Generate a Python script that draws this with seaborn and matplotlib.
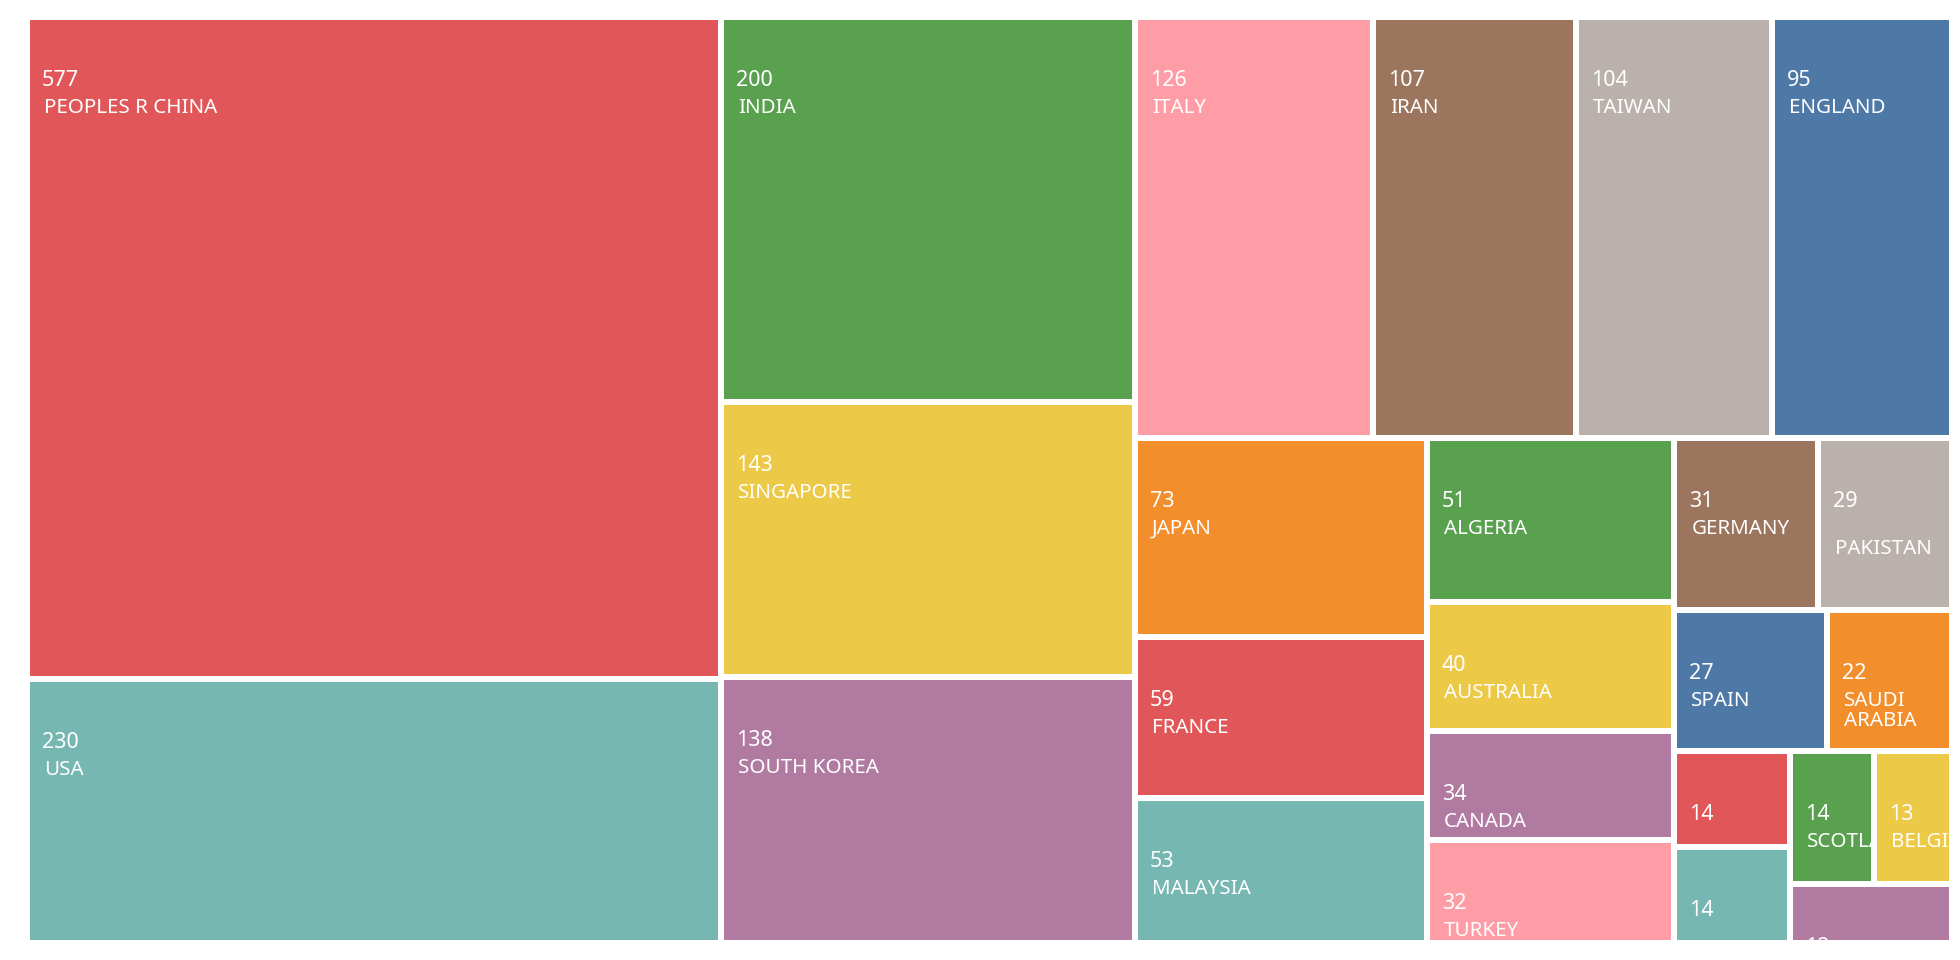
import numpy as np
import matplotlib
matplotlib.use("Agg")
import matplotlib.pyplot as plt
import seaborn as sns
from matplotlib.patches import Rectangle

# records per country (bottom-right tiles are cut off in the source, their names are not visible)
countries = ["PEOPLES R CHINA", "USA", "INDIA", "SINGAPORE", "SOUTH KOREA",
             "ITALY", "IRAN", "TAIWAN", "ENGLAND", "JAPAN", "FRANCE", "MALAYSIA",
             "ALGERIA", "AUSTRALIA", "CANADA", "TURKEY", "GERMANY", "\nPAKISTAN",
             "SPAIN", "SAUDI\nARABIA", "", "", "SCOTLAND", "BELGIUM", ""]
records = [577, 230, 200, 143, 138, 126, 107, 104, 95, 73, 59, 53,
           51, 40, 34, 32, 31, 29, 27, 22, 14, 14, 14, 13, 12]
tableau = ["#e15759", "#76b7b2", "#59a14f", "#edc948", "#b07aa1",
           "#ff9da7", "#9c755f", "#bab0ac", "#4e79a7", "#f28e2b"]


def squarify(values, x, y, w, h, ratio=0.5 * (1 + 5 ** 0.5)):
    # squarified layout, same rule as echarts treemap (golden square ratio)
    total = sum(values)
    areas = [v * w * h / total for v in values]
    rect = {"x": x, "y": y, "w": w, "h": h}
    out = []

    def worst(row, area, L):
        f = L * L * ratio
        sq = area * area
        return max(f * max(row) / sq, sq / (f * min(row)))

    def place(row, area, L, flush):
        horiz = L == rect["w"]
        other = area / L if L else 0
        limit = rect["h"] if horiz else rect["w"]
        if flush or other > limit:
            other = limit
        start = rect["x"] if horiz else rect["y"]
        end = start + (rect["w"] if horiz else rect["h"])
        pos = start
        for k, a in enumerate(row):
            step = a / other
            if k == len(row) - 1 or end - pos < step:
                step = end - pos
            if horiz:
                out.append((pos, rect["y"], step, other))
            else:
                out.append((rect["x"], pos, other, step))
            pos += step
        if horiz:
            rect["y"] += other
            rect["h"] -= other
        else:
            rect["x"] += other
            rect["w"] -= other

    row, row_area, best = [], 0.0, np.inf
    fixed = min(w, h)
    i = 0
    while i < len(areas):
        a = areas[i]
        row.append(a)
        row_area += a
        score = worst(row, row_area, fixed)
        if score <= best:
            i += 1
            best = score
        else:
            row.pop()
            row_area -= a
            place(row, row_area, fixed, False)
            fixed = min(rect["w"], rect["h"])
            row, row_area, best = [], 0.0, np.inf
    if row:
        place(row, row_area, fixed, True)
    return out


sns.set_theme(style="white")
plt.rcParams['font.family'] = ['Noto Sans', 'DejaVu Sans']
colors = sns.color_palette(tableau)

fig = plt.figure(figsize=(19.6, 9.6), dpi=100)
ax = fig.add_axes([0, 20 / 960, 1950 / 1960, 940 / 960])
ax.set_xlim(0, 1950)
ax.set_ylim(940, 0)
ax.axis('off')

tiles = squarify(records, 27, 17, 1925, 926)
half_gap = 3
for k, (x, y, w, h) in enumerate(tiles):
    x, y = x + half_gap, y + half_gap
    w, h = w - 2 * half_gap, h - 2 * half_gap
    patch = Rectangle((x, y), w, h, facecolor=colors[k % len(colors)],
                      edgecolor='none')
    ax.add_patch(patch)
    t = ax.text(x + 12, y + 66, str(records[k]), color='white',
                fontsize=15.5, va='baseline', ha='left', clip_on=True)
    t.set_clip_path(patch)
    # long names wrap onto a second line, 20px lower
    for j, line in enumerate(countries[k].split('\n')):
        t = ax.text(x + 14, y + 93 + 20 * j, line, color='white',
                    fontsize=14.8, va='baseline', ha='left', clip_on=True)
        t.set_clip_path(patch)

plt.savefig('out.png', dpi=100)
plt.close()
